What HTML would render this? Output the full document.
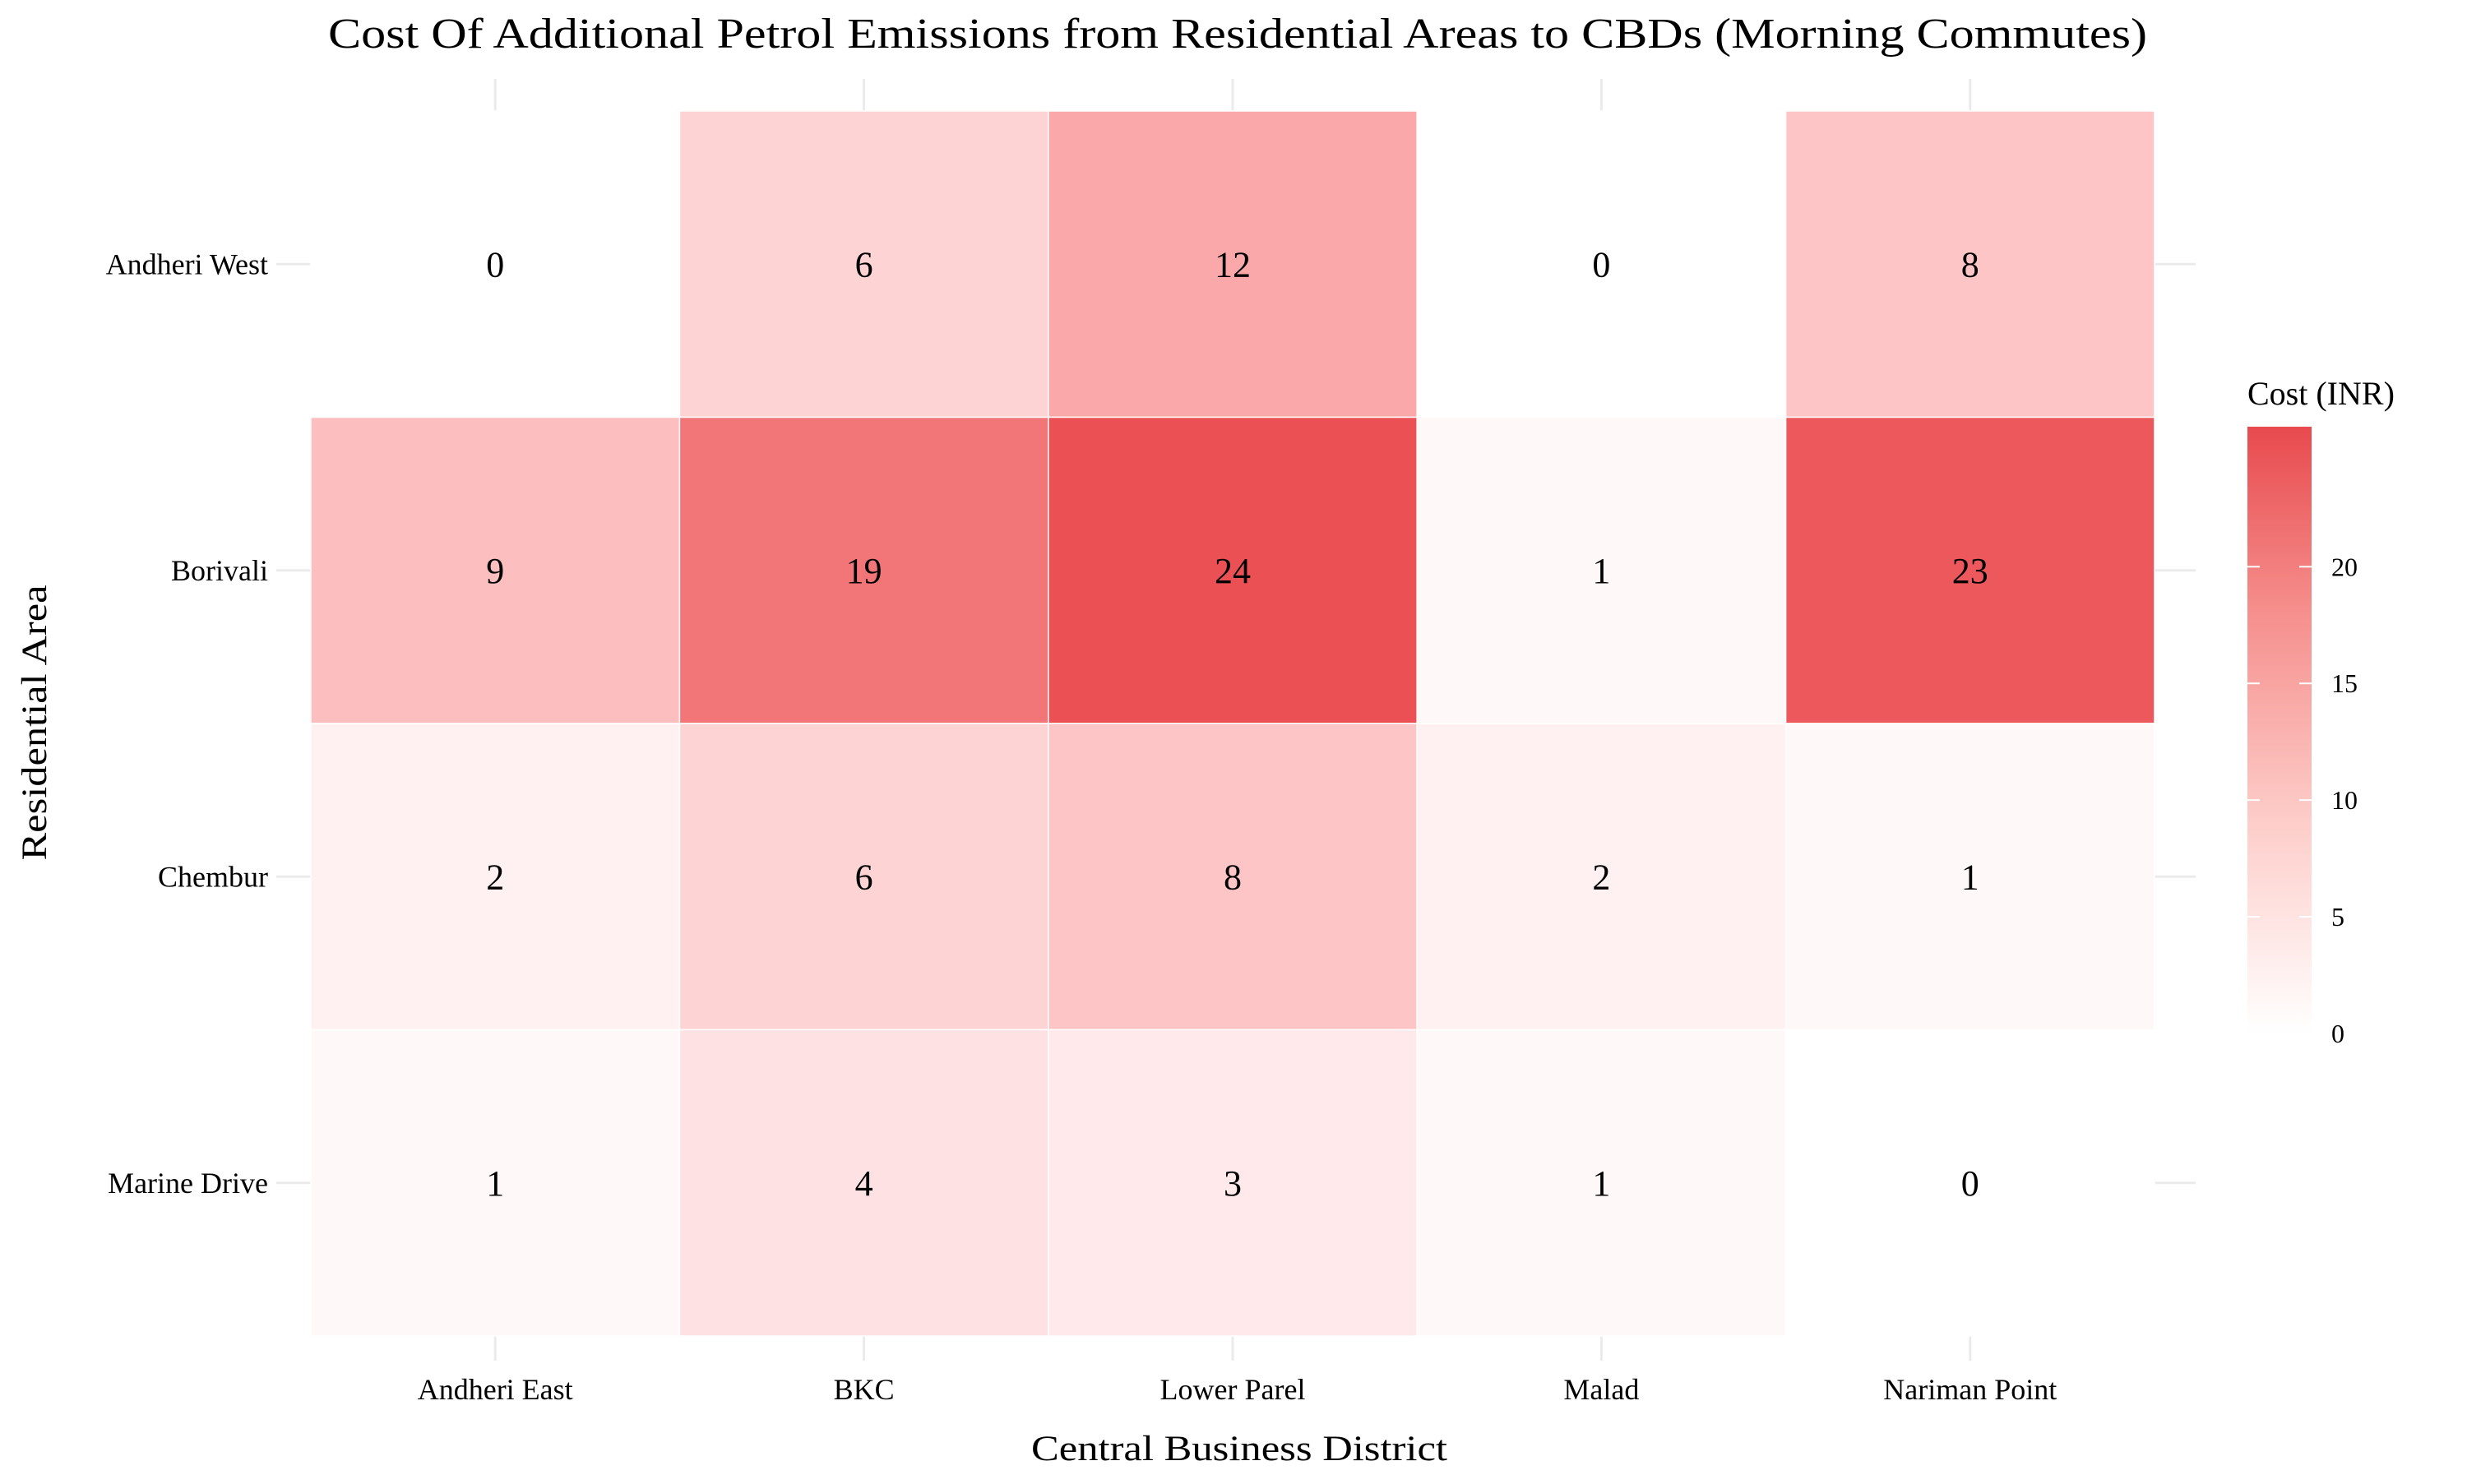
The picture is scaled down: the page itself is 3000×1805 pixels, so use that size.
<!DOCTYPE html>
<html><head><meta charset="utf-8"><style>
html,body{margin:0;padding:0;background:#fff;}
svg text{font-family:"Liberation Serif",serif;fill:#000;}
</style></head><body>
<svg id="chart" width="3000" height="1800" viewBox="0 0 3000 1800" xmlns="http://www.w3.org/2000/svg">
<defs><linearGradient id="lg" x1="0" y1="1" x2="0" y2="0">
<stop offset="0" stop-color="#ffffff"/><stop offset="0.35" stop-color="#fdcdc9"/><stop offset="0.7" stop-color="#f58e8c"/><stop offset="1" stop-color="#e84a4e"/></linearGradient></defs>
<text x="1505" y="58" font-size="52" text-anchor="middle" textLength="2212" lengthAdjust="spacingAndGlyphs">Cost Of Additional Petrol Emissions from Residential Areas to CBDs (Morning Commutes)</text>
<g id="grid"></g><g id="tiles"></g><g id="labels"></g>
<text x="1507" y="1776" font-size="43" text-anchor="middle" textLength="506" lengthAdjust="spacingAndGlyphs">Central Business District</text>
<text transform="translate(56,879) rotate(-90)" font-size="43" text-anchor="middle" textLength="335" lengthAdjust="spacingAndGlyphs">Residential Area</text>
<g>
<text x="2733" y="492" font-size="40">Cost (INR)</text>
<rect x="2733" y="519" width="78" height="738" fill="url(#lg)"/>
<g id="legticks"></g>
</g>
</svg>
<script>
const cbds = ["Andheri East","BKC","Lower Parel","Malad","Nariman Point"];
const areas = ["Andheri West","Borivali","Chembur","Marine Drive"];
const rowAndheriWest = [0,6,12,0,8];
const rowBorivali = [9,19,24,1,23];
const rowChembur = [2,6,8,2,1];
const rowMarineDrive = [1,4,3,1,0];
const legendTicks = [0,5,10,15,20];
const values = [rowAndheriWest,rowBorivali,rowChembur,rowMarineDrive];
const vmax = 26;
const X0=378,X1=2620,Y0=135,Y1=1625;
const cw=(X1-X0)/cbds.length, rh=(Y1-Y0)/areas.length;
const xs=i=>X0+cw*(i+0.5), ys=j=>Y0+rh*(j+0.5);
const NS="http://www.w3.org/2000/svg";
function mk(t,a,p){const e=document.createElementNS(NS,t);for(const k in a)e.setAttribute(k,a[k]);p.appendChild(e);return e;}
function col(v){const t=Math.max(0,Math.min(1,v/vmax));
 const r=Math.round(255-(255-231)*t*t), g=Math.round(255-(255-66)*t), b=Math.round(255-(255-70)*t);
 return `rgb(${r},${g},${b})`;}
const g=document.getElementById('grid'),tl=document.getElementById('tiles'),lb=document.getElementById('labels');
cbds.forEach((c,i)=>{
 const l=mk('line',{x1:xs(i),x2:xs(i),y1:96,y2:1655,stroke:'#ebebeb','stroke-width':3},g);
 
 
 const t=mk('text',{x:xs(i),y:1702,'font-size':36,'text-anchor':'middle'},lb);t.textContent=c;
 
 
});
areas.forEach((a,j)=>{
 const l=mk('line',{x1:336,x2:2670,y1:ys(j),y2:ys(j),stroke:'#ebebeb','stroke-width':3},g);
 
 
 const t=mk('text',{x:326,y:ys(j)+12,'font-size':36,'text-anchor':'end'},lb);t.textContent=a;
 
 
 cbds.forEach((c,i)=>{
  const v=values[j][i];
  const r=mk('rect',{x:X0+cw*i,y:Y0+rh*j,width:cw,height:rh,fill:col(v),stroke:'#ffffff','stroke-width':1.5},tl);
  
  
  const t=mk('text',{x:xs(i),y:ys(j)+15,'font-size':44,'text-anchor':'middle'},lb);t.textContent=v;
  
  
 });
});
const lt=document.getElementById('legticks');
const LB=1257,LT=519,ls=v=>LB-(LB-LT)*v/vmax;
legendTicks.forEach(v=>{
 const y=ls(v);
 if(v>0){mk('line',{x1:2733,x2:2748,y1:y,y2:y,stroke:'#fff','stroke-width':2},lt);mk('line',{x1:2796,x2:2811,y1:y,y2:y,stroke:'#fff','stroke-width':2},lt);}
 const t=mk('text',{x:2835,y:y+11,'font-size':32},lt);t.textContent=v;
 
 
});
</script>
</body></html>
